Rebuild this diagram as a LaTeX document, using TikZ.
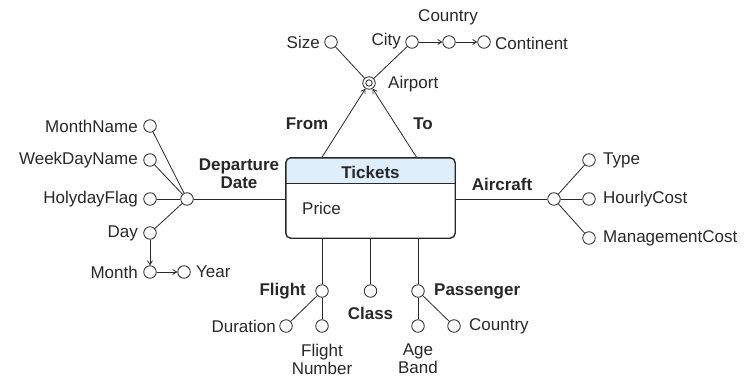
\documentclass[tikz,border=0pt]{standalone}
\usepackage{fontspec}
\setmainfont{Liberation Sans}
\usetikzlibrary{arrows.meta}
\definecolor{ink}{RGB}{40,40,40}
\definecolor{hdr}{RGB}{222,238,250}
\begin{document}
\begin{tikzpicture}[x=1pt,y=-1pt,
  every node/.style={font=\fontsize{17}{18}\selectfont, text=ink, inner sep=0pt},
  attr/.style={circle, draw=ink, line width=0.8pt, minimum size=12.5pt, inner sep=0pt},
  hier/.style={attr, path picture={\draw[ink, line width=0.8pt] (path picture bounding box.center) circle (3.2pt);}},
  lbl/.style={font=\fontsize{17}{18}\selectfont\bfseries},
  link/.style={draw=ink, line width=0.8pt},
  arr/.style={link, -{Straight Barb[length=4pt,width=5pt]}}]
\useasboundingbox (0,0) rectangle (746,377);

% fact box
\node[minimum width=169pt, minimum height=80pt] (tickets) at (370.5,198) {};
\begin{scope}
  \clip[rounded corners=5pt] (tickets.north west) rectangle (tickets.south east);
  \fill[hdr] (tickets.north west) rectangle ([yshift=-26pt]tickets.north east);
\end{scope}
\draw[ink, line width=0.8pt] ([yshift=-26pt]tickets.north west) -- ([yshift=-26pt]tickets.north east);
\draw[ink, line width=1.4pt, rounded corners=5pt] (tickets.north west) rectangle (tickets.south east);
\node[lbl] (tname) at (370.5,172) {Tickets};
\node[anchor=west] (price) at (302,208) {Price};

% airport hierarchy
\node[hier] (airport) at (369,83) {};
\node[anchor=west] (airportl) at (388,84) {Airport};
\node[attr] (size) at (331,42) {};
\node[anchor=east] (sizel) at (320,42) {Size};
\node[attr] (city) at (412,42) {};
\node[anchor=east] (cityl) at (401,41) {City};
\node[attr] (country) at (449,42) {};
\node (countryl) at (448,17) {Country};
\node[attr] (continent) at (484,42) {};
\node[anchor=west] (continentl) at (495,43) {Continent};
\draw[link] (size) -- (airport);
\draw[link] (city) -- (airport);
\draw[arr] (city) -- (country);
\draw[arr] (country) -- (continent);
\coordinate (fromfoot) at (321.5,158);
\coordinate (tofoot) at (417,158);
\draw[arr] (fromfoot) -- (airport);
\draw[arr] (tofoot) -- (airport);
\node[lbl] (froml) at (307,124) {From};
\node[lbl] (tol) at (423,124) {To};

% departure date hierarchy
\node[attr] (date) at (187,199) {};
\node[lbl, align=center] (datel) at (239,174) {Departure\\Date};
\node[attr] (monthname) at (150,126) {};
\node[attr] (weekday) at (150,160) {};
\node[attr] (holyday) at (150,199) {};
\node[attr] (day) at (150,233) {};
\node[attr] (month) at (150,272) {};
\node[attr] (year) at (184,272) {};
\node[anchor=east] (monthnamel) at (138,126) {MonthName};
\node[anchor=east] (weekdayl) at (138,160) {WeekDayName};
\node[anchor=east] (holydayl) at (138,199) {HolydayFlag};
\node[anchor=east] (dayl) at (138,233) {Day};
\node[anchor=east] (monthl) at (138,272) {Month};
\node[anchor=west] (yearl) at (196,272) {Year};
\draw[link] (date) -- (tickets.west |- date);
\draw[link] (monthname) -- (date);
\draw[link] (weekday) -- (date);
\draw[link] (holyday) -- (date);
\draw[link] (day) -- (date);
\draw[arr] (day) -- (month);
\draw[arr] (month) -- (year);

% aircraft hierarchy
\node[attr] (aircraft) at (554,199) {};
\node[lbl] (aircraftl) at (502,184) {Aircraft};
\node[attr] (type) at (589,160) {};
\node[attr] (hourly) at (589,199) {};
\node[attr] (mgmt) at (589,238) {};
\node[anchor=west] (typel) at (603,160) {Type};
\node[anchor=west] (hourlyl) at (603,199) {HourlyCost};
\node[anchor=west] (mgmtl) at (603,238) {ManagementCost};
\draw[link] (tickets.east |- aircraft) -- (aircraft);
\draw[link] (aircraft) -- (type);
\draw[link] (aircraft) -- (hourly);
\draw[link] (aircraft) -- (mgmt);

% flight, class and passenger
\node[attr] (flight) at (322,291) {};
\node[lbl, anchor=east] (flightl) at (306,291) {Flight};
\node[attr] (duration) at (286,326) {};
\node[attr] (flightno) at (322,326) {};
\node[anchor=east] (durationl) at (276,326) {Duration};
\node[align=center] (flightnol) at (322,359) {Flight\\Number};
\draw[link] (flight) -- (flight |- tickets.south);
\draw[link] (flight) -- (duration);
\draw[link] (flight) -- (flightno);

\node[attr] (class) at (370.5,291) {};
\node[lbl] (classl) at (370.5,313) {Class};
\draw[link] (class) -- (class |- tickets.south);

\node[attr] (passenger) at (418,291) {};
\node[lbl, anchor=west] (passengerl) at (434,291) {Passenger};
\node[attr] (ageband) at (418,326) {};
\node[attr] (pcountry) at (454,326) {};
\node[align=center] (agebandl) at (418,359) {Age\\Band};
\node[anchor=west] (pcountryl) at (469,326) {Country};
\draw[link] (passenger) -- (passenger |- tickets.south);
\draw[link] (passenger) -- (ageband);
\draw[link] (passenger) -- (pcountry);
\end{tikzpicture}
\end{document}
